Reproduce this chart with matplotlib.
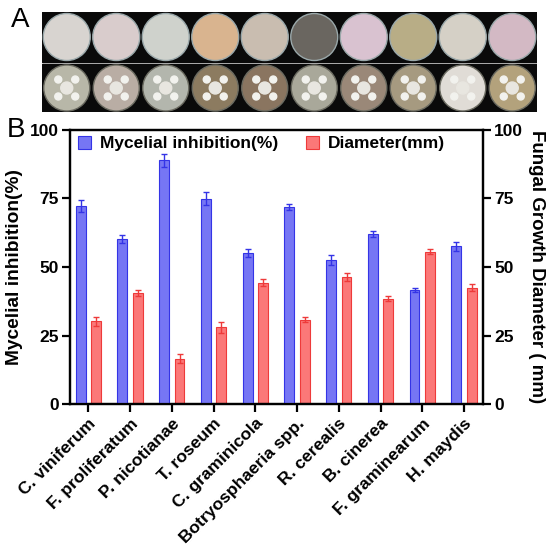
import numpy as np
import matplotlib
matplotlib.use('Agg')
import matplotlib.pyplot as plt
from matplotlib.patches import Rectangle, Circle

plt.rcParams['font.family'] = ['Liberation Sans', 'DejaVu Sans']
plt.rcParams['font.weight'] = 'bold'
plt.rcParams['axes.labelweight'] = 'bold'

# ------------------- Data -------------------
species = ['C. viniferum', 'F. proliferatum', 'P. nicotianae', 'T. roseum',
           'C. graminicola', 'Botryosphaeria spp.', 'R. cerealis', 'B. cinerea',
           'F. graminearum', 'H. maydis']
inhibition = [72.2, 60.1, 88.9, 74.9, 55.2, 71.8, 52.6, 62.0, 41.6, 57.6]
inhibition_err = [2.3, 1.4, 2.4, 2.3, 1.4, 1.1, 1.8, 1.0, 0.9, 1.6]
diameter = [30.2, 40.5, 16.5, 28.0, 44.3, 30.7, 46.4, 38.5, 55.6, 42.4]
diameter_err = [1.7, 1.1, 1.7, 2.1, 1.3, 0.9, 1.4, 0.9, 0.8, 1.3]

# colours of the plates in panel A (top row = control, bottom row = treated)
plate_top = ['#d8d4d0', '#d9cccc', '#cfd2cc', '#d9b48f', '#c9bdb0',
             '#6a6660', '#d9c2d0', '#b8ad86', '#d5d0c6', '#d3b9c4']
plate_bottom = ['#b8b7a8', '#b9ada4', '#b3b6ad', '#8c7b60', '#8a7560',
                '#a9a89a', '#9a8878', '#a69a80', '#e0dcd6', '#b3a27c']

fig = plt.figure(figsize=(5.5, 5.5), dpi=100)

# ------------------- Panel A (plate strip) -------------------
axA = fig.add_axes([42/550, 1-112/550, 495/550, 100/550])
axA.set_xlim(0, 495)
axA.set_ylim(100, 0)
axA.axis('off')
axA.add_patch(Rectangle((0, 0), 495, 50, color='#0a0a0a'))
axA.add_patch(Rectangle((0, 52), 495, 48, color='#0a0a0a'))
for i in range(10):
    cx = 24.75 + i * 49.5
    axA.add_patch(Circle((cx, 25), 23.5, color=plate_top[i], ec='#9aa8aa', lw=1))
    axA.add_patch(Circle((cx, 76), 23, color=plate_bottom[i], ec='#6a6a60', lw=1))
    for ang in np.deg2rad([45, 135, 225, 315]):
        axA.add_patch(Circle((cx + 12*np.cos(ang), 76 + 12*np.sin(ang)), 3.5, color='#f2f2ee'))
    axA.add_patch(Circle((cx, 76), 6, color='#e8e6e0'))
fig.text(20/550, 1-20/550, 'A', fontsize=20, fontweight='normal', ha='center', va='center')
fig.text(16/550, 1-130/550, 'B', fontsize=20, fontweight='normal', ha='center', va='center')

# ------------------- Panel B (bars) -------------------
ax = fig.add_axes([70/550, 1-404/550, 413/550, 274/550])
ax2 = ax.twinx()
x = np.arange(len(species))
w = 0.235
ax.bar(x - 0.185, inhibition, w, color='#7676f4', edgecolor='#3434e6', lw=0.8,
       yerr=inhibition_err, error_kw=dict(ecolor='#3434e6', lw=1, capsize=2.5, capthick=1),
       label='Mycelial inhibition(%)')
ax2.bar(x + 0.185, diameter, w, color='#fb7878', edgecolor='#ee3a3a', lw=0.8,
        yerr=diameter_err, error_kw=dict(ecolor='#ee3a3a', lw=1, capsize=2.5, capthick=1),
        label='Diameter(mm)')

for a in (ax, ax2):
    a.set_ylim(0, 100)
    a.set_yticks([0, 25, 50, 75, 100])
    a.tick_params(axis='y', labelsize=12.5, width=1.6, length=6, pad=2)
    for s in a.spines.values():
        s.set_linewidth(1.6)
ax.set_xlim(-0.44, 9.455)
ax.set_xticks(x)
ax.set_xticklabels(species, rotation=45, ha='right', rotation_mode='anchor', fontsize=12.6)
ax.tick_params(axis='x', width=1.6, length=6, pad=2.5)
ax.set_ylabel('Mycelial inhibition(%)', fontsize=13.8, labelpad=5)
ax2.set_ylabel('Fungal Growth Diameter ( mm)', fontsize=13.5, rotation=270, labelpad=16)

h1, l1 = ax.get_legend_handles_labels()
h2, l2 = ax2.get_legend_handles_labels()
fig.legend(h1 + h2, l1 + l2, ncol=2, frameon=False, fontsize=12.5, loc='center left',
           bbox_to_anchor=(78/550, 1-143.5/550), borderaxespad=0, borderpad=0,
           handlelength=0.75, handleheight=0.75, columnspacing=1.6, handletextpad=0.52)
ax.set_zorder(ax2.get_zorder() + 1)
ax.patch.set_visible(False)

fig.savefig('out.png', dpi=100)
